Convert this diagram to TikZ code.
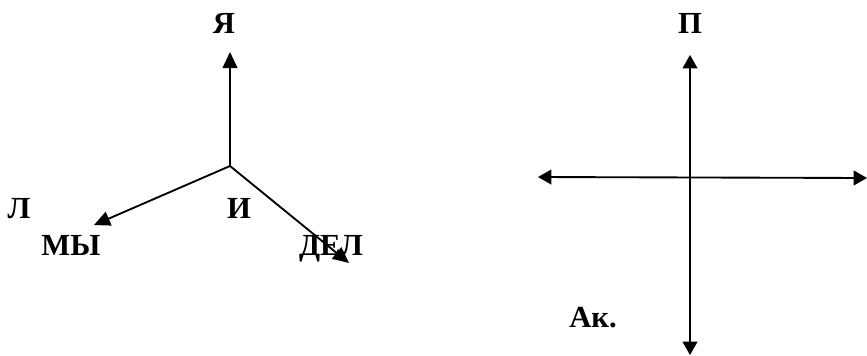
\documentclass[tikz,border=0pt]{standalone}
\usepackage{fontspec}
\setmainfont{Liberation Serif}
\usetikzlibrary{arrows.meta}

\tikzset{
  ray/.style={line width=1.4pt, -{Triangle[length=12pt,width=11pt]}},
  axis/.style={line width=1.4pt, {Triangle[length=10pt,width=11pt]}-{Triangle[length=10pt,width=11pt]}},
  word/.style={font=\fontsize{23}{27}\selectfont\bfseries, inner sep=0pt, anchor=base}
}

\begin{document}
\begin{tikzpicture}[x=0.75pt,y=-0.75pt]
    \useasboundingbox (0,0) rectangle (867,355);
    % left: three rays
    \coordinate (o) at (230,166);
    \coordinate (ya) at (230,52);
    \coordinate (my) at (94,225);
    \coordinate (del) at (349,263);
    \node[word] (lY) at (224,33) {Я};
    \node[word] (lL) at (19,218) {Л};
    \node[word] (lI) at (239,218) {И};
    \node[word] (lMY) at (71,255) {МЫ};
    \node[word] (lDEL) at (331,255) {ДЕЛ};
    \draw[ray] (o) -- (ya);
    \draw[ray] (o) -- (my);
    \draw[ray] (o) -- (del);
    % right: cross
    \coordinate (t) at (690,55);
    \coordinate (b) at (690,355);
    \coordinate (l) at (538,177);
    \coordinate (r) at (867,178);
    \node[word] (lP) at (690,33) {П};
    \node[word] (lAk) at (593,327) {Ак.};
    \draw[axis] (t) -- (b);
    \draw[axis] (l) -- (r);
\end{tikzpicture}
\end{document}
